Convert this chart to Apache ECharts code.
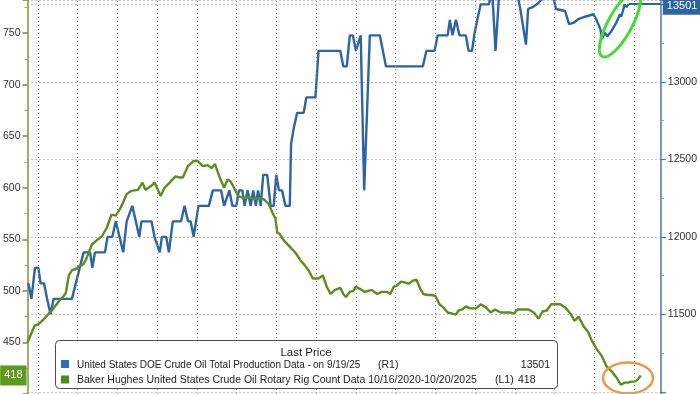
<!DOCTYPE html>
<html><head><meta charset="utf-8">
<script src="https://cdn.jsdelivr.net/npm/echarts@6/dist/echarts.min.js"></script>
<style>html,body{margin:0;padding:0;background:#fff}#c{width:700px;height:394px}</style>
</head><body><div id="c"></div>
<script>
// US DOE crude oil production (R1, thousand b/d)
const blueDates = ['2021-12-09','2021-12-16','2021-12-24','2022-01-01','2022-01-06','2022-01-14','2022-01-21','2022-01-29','2022-02-05','2022-03-19','2022-03-28','2022-04-06','2022-04-15','2022-04-30','2022-05-05','2022-05-11','2022-06-03','2022-06-09','2022-06-20','2022-06-28','2022-07-15','2022-07-23','2022-08-05','2022-08-21','2022-08-26','2022-09-18','2022-09-25','2022-10-07','2022-10-12','2022-10-22','2022-10-28','2022-11-06','2022-11-25','2022-12-03','2022-12-11','2022-12-17','2022-12-24','2023-01-04','2023-01-28','2023-02-06','2023-02-25','2023-03-04','2023-03-16','2023-03-23','2023-04-01','2023-04-07','2023-04-15','2023-04-20','2023-04-27','2023-05-04','2023-05-10','2023-05-16','2023-05-21','2023-05-27','2023-06-02','2023-06-11','2023-06-19','2023-06-26','2023-07-02','2023-07-08','2023-07-15','2023-07-23','2023-08-02','2023-08-05','2023-08-11','2023-08-19','2023-09-03','2023-09-09','2023-09-30','2023-10-07','2023-11-26','2023-12-03','2023-12-11','2023-12-18','2023-12-25','2024-01-01','2024-01-12','2024-01-20','2024-02-02','2024-02-25','2024-03-10','2024-06-03','2024-06-11','2024-06-30','2024-07-07','2024-07-30','2024-08-04','2024-08-10','2024-08-18','2024-08-26','2024-09-10','2024-09-16','2024-09-24','2024-09-29','2024-10-06','2024-10-14','2024-11-02','2024-11-09','2024-11-17','2024-11-26','2024-12-09','2024-12-22','2025-01-05','2025-01-13','2025-01-26','2025-01-31','2025-02-09','2025-02-20','2025-03-03','2025-03-12','2025-03-26','2025-04-05','2025-04-26','2025-05-05','2025-05-15','2025-05-26','2025-06-11','2025-06-30','2025-07-07','2025-07-16','2025-07-20','2025-07-26','2025-08-01','2025-08-11','2025-08-22','2025-08-30','2025-09-02','2025-09-10','2025-09-14','2025-09-19'];
const blueValues = [11700,11600,11800,11800,11700,11700,11600,11500,11600,11600,11700,11800,11900,11900,11800,11900,11900,12000,12000,12100,11900,12100,12200,12000,12100,12100,12000,11900,12000,12000,11900,12100,12100,12200,12100,12100,12000,12200,12200,12300,12300,12200,12300,12200,12200,12300,12300,12200,12300,12200,12300,12200,12300,12200,12400,12400,12200,12200,12400,12300,12300,12200,12200,12600,12700,12800,12800,12900,12900,13200,13200,13100,13100,13300,13300,13200,13300,12300,13300,13300,13100,13100,13200,13200,13300,13300,13400,13300,13400,13300,13300,13200,13200,13300,13400,13500,13500,13600,13200,13600,13630,13600,13580,13470,13240,13470,13480,13500,13530,13600,13600,13470,13457,13372,13380,13404,13420,13436,13400,13340,13276,13318,13293,13330,13383,13436,13420,13500,13482,13501];

// Baker Hughes US crude oil rotary rig count (L1)
const greenDates = ['2021-12-07','2021-12-23','2022-01-02','2022-01-12','2022-01-25','2022-02-05','2022-02-17','2022-02-28','2022-03-05','2022-03-12','2022-03-19','2022-03-27','2022-04-05','2022-04-15','2022-04-22','2022-05-04','2022-05-15','2022-05-27','2022-06-07','2022-06-18','2022-06-28','2022-07-07','2022-07-15','2022-07-23','2022-08-03','2022-08-18','2022-08-28','2022-09-04','2022-09-18','2022-09-25','2022-10-09','2022-10-18','2022-10-30','2022-11-12','2022-11-21','2022-11-29','2022-12-11','2022-12-24','2023-01-02','2023-01-14','2023-01-25','2023-02-03','2023-02-11','2023-02-21','2023-03-04','2023-03-12','2023-03-19','2023-03-27','2023-04-05','2023-04-19','2023-04-30','2023-05-12','2023-05-23','2023-06-03','2023-06-15','2023-06-23','2023-06-30','2023-07-04','2023-07-10','2023-07-19','2023-08-04','2023-08-15','2023-08-26','2023-09-07','2023-09-14','2023-09-24','2023-10-07','2023-10-17','2023-10-26','2023-11-04','2023-11-14','2023-11-26','2023-12-03','2023-12-09','2023-12-18','2023-12-26','2024-01-01','2024-01-10','2024-01-22','2024-02-06','2024-02-19','2024-02-29','2024-03-13','2024-03-20','2024-03-28','2024-04-04','2024-04-14','2024-04-24','2024-05-02','2024-05-11','2024-05-19','2024-05-28','2024-06-04','2024-06-14','2024-06-24','2024-07-02','2024-07-11','2024-07-20','2024-07-30','2024-08-10','2024-08-18','2024-08-24','2024-09-02','2024-09-10','2024-09-19','2024-10-03','2024-10-14','2024-10-26','2024-11-06','2024-11-16','2024-11-29','2024-12-10','2024-12-22','2024-12-30','2025-01-06','2025-02-01','2025-02-13','2025-02-24','2025-03-05','2025-03-15','2025-03-25','2025-04-03','2025-04-15','2025-04-26','2025-05-08','2025-05-18','2025-05-27','2025-06-07','2025-06-18','2025-06-26','2025-07-07','2025-07-19','2025-07-30','2025-08-11','2025-08-22','2025-09-01','2025-09-10','2025-09-18','2025-09-25','2025-10-03','2025-10-10','2025-10-17'];
const greenValues = [450,466,468,472,478,483,490,495,498,515,520,521,524,526,532,545,549,553,561,574,573,579,586,594,597,598,605,598,602,605,592,600,605,611,610,610,621,626,626,621,622,619,623,611,600,608,606,600,592,590,591,589,590,589,584,576,570,557,555,549,542,537,530,524,520,512,512,515,504,497,501,503,497,494,499,500,504,502,499,501,497,499,499,497,504,505,509,508,507,510,511,502,497,496,496,495,487,484,479,478,477,481,482,485,483,483,487,484,479,482,479,479,479,478,482,482,479,473,480,481,487,487,487,484,478,471,475,466,460,452,444,437,427,422,416,409,411,411,412,412,414,418];

// vertical grid (quarter starts) and axis settings
const quarterDates = ['2022-01-01','2022-04-01','2022-07-01','2022-10-01','2023-01-01','2023-04-01','2023-07-01','2023-10-01','2024-01-01','2024-04-01','2024-07-01','2024-10-01','2025-01-01','2025-04-01','2025-07-01','2025-10-01'];
const xRange = ['2021-12-07','2025-12-02'];
const leftRange = [400, 782.1];
const rightRange = [10986, 13528];
const lastProduction = 13501, lastProductionDate = '2025-09-19';
const lastRigs = 418;

const ts = s => Date.parse(s + 'T00:00:00Z');
const BLUE = '#2d64a6', GREEN = '#5b8e1c';
const FONT = '"Liberation Sans", Arial, sans-serif';

const chart = echarts.init(document.getElementById('c'), null, {renderer: 'canvas'});
const dotted = {color: '#8c8c8c', width: 1, type: [1, 3]};
const txt = (text, x, y, size, align) => ({type: 'text', z: 101, x: x, y: y,
  style: {text: text, fontSize: size, fontFamily: FONT, fill: '#222', align: align || 'left', textAlign: align || 'left',
    verticalAlign: 'middle', textVerticalAlign: 'middle'}});

chart.setOption({
  animation: false,
  backgroundColor: '#fff',
  textStyle: {fontFamily: FONT},
  grid: {left: 25, right: 37, top: 0, height: 396.1, containLabel: false},
  xAxis: {
    type: 'time', min: ts(xRange[0]), max: ts(xRange[1]),
    axisLine: {show: false}, axisTick: {show: false}, axisLabel: {show: false}, splitLine: {show: false}
  },
  yAxis: [{
    type: 'value', position: 'left', min: leftRange[0], max: leftRange[1], interval: 50,
    axisLine: {show: true, lineStyle: {color: '#7b9a33', width: 1.5}},
    axisTick: {show: true, length: 5, lineStyle: {color: '#6f922a', width: 1.5}},
    minorTick: {show: true, splitNumber: 2, length: 3, lineStyle: {color: '#9aa86a'}},
    axisLabel: {color: '#333', fontSize: 10.5, margin: 7,
      formatter: v => (v % 50 === 0 && v >= 450) ? String(v) : ''},
    splitLine: {show: false}
  }, {
    type: 'value', position: 'right', min: rightRange[0], max: rightRange[1],
    axisLine: {show: true, lineStyle: {color: '#4a77aa', width: 1.5}},
    axisTick: {show: true, length: 5, lineStyle: {color: '#4a77aa', width: 1.2}},
    minorTick: {show: true, splitNumber: 2, length: 3, lineStyle: {color: '#8aa3c4'}},
    axisLabel: {color: '#333', fontSize: 10.5, margin: 7,
      formatter: v => (v % 500 === 0 && v >= 11500 && v <= 13000) ? String(v) : ''},
    splitLine: {show: true, lineStyle: dotted}
  }],
  series: [{
    name: 'United States DOE Crude Oil Total Production Data', type: 'line',
    yAxisIndex: 1, showSymbol: false, symbol: 'none',
    lineStyle: {color: BLUE, width: 2.4}, itemStyle: {color: BLUE},
    data: blueDates.map((d, i) => [ts(d), blueValues[i]]),
    markLine: {
      silent: true, symbol: ['none', 'none'],
      lineStyle: {color: BLUE, width: 2, type: 'solid'},
      label: {show: true, position: 'end', distance: 2, formatter: String(lastProduction),
        color: '#fff', backgroundColor: BLUE, padding: [3, 4, 3, 4], fontSize: 11, offset: [0, 2]},
      data: [[{coord: [ts(lastProductionDate), lastProduction]}, {coord: [ts(xRange[1]), lastProduction]}]]
    }
  }, {
    name: 'Baker Hughes United States Crude Oil Rotary Rig Count', type: 'line',
    yAxisIndex: 0, showSymbol: false, symbol: 'none',
    lineStyle: {color: GREEN, width: 2.4}, itemStyle: {color: GREEN},
    data: greenDates.map((d, i) => [ts(d), greenValues[i]]),
    markLine: {
      silent: true, symbol: ['none', 'none'],
      label: {show: false},
      data: quarterDates.map(q => ({xAxis: ts(q), lineStyle: dotted}))
        .concat([{yAxis: lastRigs, lineStyle: {color: 'rgba(0,0,0,0)', width: 0},
          label: {show: true, position: 'start', distance: 1, formatter: String(lastRigs),
            color: '#fff', backgroundColor: '#5d9a1e', padding: [5, 4, 4, 4], fontSize: 11}}])
    }
  }],
  graphic: [
    {type: 'rect', z: 100, shape: {x: 55.5, y: 340.5, width: 502, height: 48, r: 4},
      style: {fill: '#fff', stroke: '#4a4a4a', lineWidth: 1}},
    txt('Last Price', 306, 353, 11.5, 'center'),
    {type: 'rect', z: 101, shape: {x: 61, y: 360, width: 8, height: 8}, style: {fill: '#2f6cb8'}},
    txt('United States DOE Crude Oil Total Production Data -', 77, 365, 10),
    txt('on 9/19/25', 313, 365, 10),
    txt('(R1)', 378, 365, 10.5),
    txt('13501', 550, 365, 10.5, 'right'),
    {type: 'rect', z: 101, shape: {x: 61, y: 375.5, width: 8, height: 8}, style: {fill: '#4f8a12'}},
    txt('Baker Hughes United States Crude Oil Rotary Rig Count Data 10/16/2020-10/20/2025', 77, 380, 10.5),
    txt('(L1)', 495, 380, 10.5),
    txt('418', 518, 380, 10.5),
    {type: 'ellipse', z: 102, x: 620, y: 24, rotation: -0.5, shape: {cx: 0, cy: 0, rx: 12, ry: 37},
      style: {fill: 'rgba(0,0,0,0)', stroke: '#45dd35', lineWidth: 3}},
    {type: 'ellipse', z: 102, x: 628, y: 378, rotation: 0, shape: {cx: 0, cy: 0, rx: 25, ry: 15.5},
      style: {fill: 'rgba(0,0,0,0)', stroke: '#e89a48', lineWidth: 2.5}}
  ]
});
</script>
</body></html>
